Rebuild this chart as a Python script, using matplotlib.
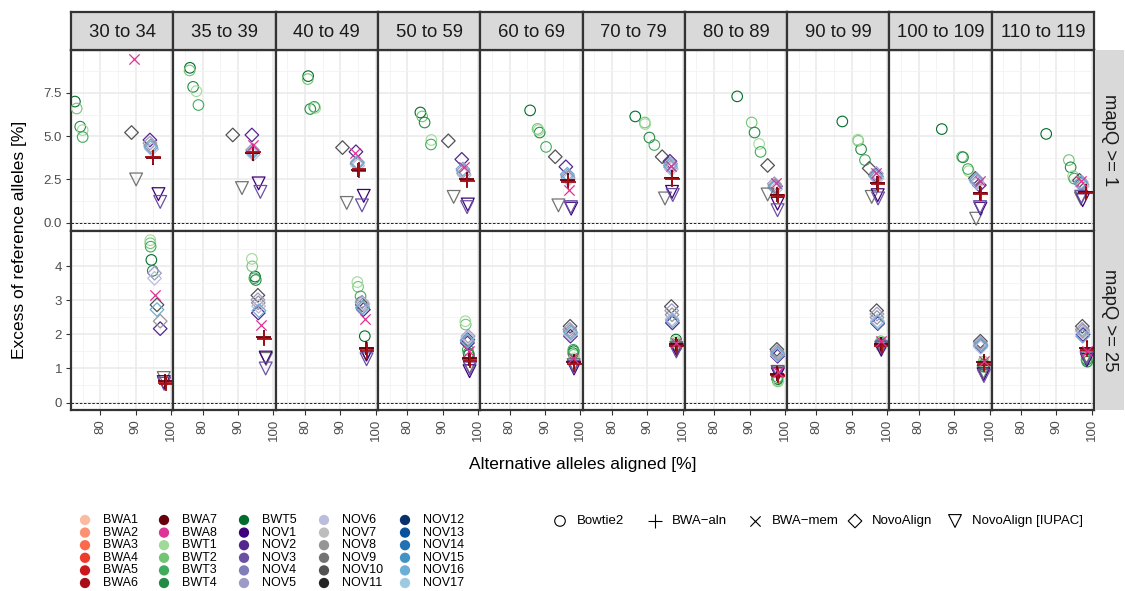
import matplotlib
matplotlib.use('Agg')
import matplotlib.pyplot as plt

plt.rcParams['font.family'] = ['Liberation Sans', 'DejaVu Sans']

# facet labels
AGE_GROUPS = ['30 to 34', '35 to 39', '40 to 49', '50 to 59', '60 to 69',
              '70 to 79', '80 to 89', '90 to 99', '100 to 109', '110 to 119']
MAPQ_ROWS = ['mapQ >= 1', 'mapQ >= 25']

# samples drawn by each aligner (one point per sample and panel)
BT2_SAMPLES = ['BWT5', 'BWT2', 'BWT4', 'BWT1', 'BWT3']
ALN_SAMPLES = ['BWA5', 'BWA7', 'BWA6']
MEM_SAMPLES = ['BWA8']
NOVO_SAMPLES = ['NOV10', 'NOV2', 'NOV5', 'NOV8', 'NOV6', 'NOV16']
IUPAC_SAMPLES = ['NOV9', 'NOV1', 'NOV3']

# ---- mapQ >= 1 : (alt aligned %, excess ref %) per age panel ----
Q1_BT2 = [
    [(72.8, 7.0), (73.3, 6.6), (74.3, 5.55), (75.0, 5.35), (75.0, 4.95)],
    [(76.4, 8.95), (76.3, 8.8), (77.3, 7.85), (78.2, 7.6), (78.8, 6.8)],
    [(80.9, 8.47), (80.8, 8.3), (81.5, 6.57), (82.9, 6.63), (82.6, 6.7)],
    [(83.7, 6.37), (84.2, 6.14), (84.9, 5.79), (86.8, 4.78), (86.7, 4.52)],
    [(85.8, 6.49), (87.9, 5.42), (88.5, 5.21), (88.2, 5.35), (90.3, 4.38)],
    [(86.6, 6.14), (89.3, 5.79), (90.6, 4.92), (89.4, 5.7), (92.0, 4.49)],
    [(86.5, 7.3), (90.6, 5.79), (91.4, 5.21), (92.7, 4.55), (93.1, 4.09)],
    [(87.3, 5.85), (91.8, 4.73), (92.6, 4.24), (91.7, 4.8), (93.7, 3.62)],
    [(86.5, 5.41), (92.2, 3.81), (92.5, 3.78), (94.1, 2.98), (93.9, 3.1)],
    [(87.1, 5.13), (93.5, 3.62), (94.0, 3.2), (94.7, 2.69), (95.0, 2.55)],
]
Q1_ALN = [
    [(95.0, 3.78), (95.0, 3.75), (94.8, 3.8)],
    [(94.2, 4.05), (94.1, 4.0), (94.3, 4.1)],
    [(95.2, 3.0), (95.1, 3.05), (95.3, 3.1)],
    [(96.9, 2.46), (96.8, 2.5), (97.0, 2.42)],
    [(96.5, 2.4), (96.4, 2.45), (96.6, 2.36)],
    [(97.0, 2.56), (96.9, 2.6), (97.1, 2.5)],
    [(97.9, 1.59), (97.8, 1.62), (98.0, 1.55)],
    [(97.3, 2.27), (97.2, 2.3), (97.4, 2.22)],
    [(97.4, 1.69), (97.3, 1.72), (97.5, 1.65)],
    [(98.3, 1.78), (98.2, 1.8), (98.4, 1.74)],
]
Q1_MEM = [
    [(89.5, 9.44)], [(94.3, 4.5)], [(94.2, 4.0)], [(96.0, 3.2)], [(96.7, 1.88)],
    [(96.8, 3.3)], [(97.5, 2.3)], [(96.9, 2.9)], [(97.2, 2.4)], [(97.0, 2.4)],
]
Q1_NOVO = [
    [(88.8, 5.21), (94.0, 4.78), (94.0, 4.6), (94.2, 4.45), (94.5, 4.25), (94.3, 4.35)],
    [(88.5, 5.07), (93.9, 5.07), (94.1, 4.2), (94.0, 4.05), (94.3, 3.95), (94.2, 4.1)],
    [(90.6, 4.34), (94.4, 4.1), (94.8, 3.5), (94.7, 3.4), (94.9, 3.3), (94.8, 3.45)],
    [(91.6, 4.73), (95.4, 3.66), (95.8, 3.0), (95.9, 2.85), (96.1, 2.75), (95.7, 3.1)],
    [(92.9, 3.81), (95.9, 3.23), (96.4, 2.7), (96.5, 2.6), (96.6, 2.5), (96.3, 2.8)],
    [(94.2, 3.81), (96.4, 3.55), (96.6, 3.4), (96.6, 3.2), (96.8, 3.1), (96.5, 3.3)],
    [(95.1, 3.31), (97.3, 2.1), (97.0, 2.25), (97.2, 2.15), (97.4, 1.95), (97.1, 2.05)],
    [(94.9, 3.14), (96.8, 2.75), (96.9, 2.85), (97.0, 2.65), (97.1, 2.55), (96.7, 2.7)],
    [(96.0, 2.56), (97.1, 2.17), (96.3, 2.5), (96.4, 2.35), (96.6, 2.3), (96.2, 2.45)],
    [(96.5, 2.45), (96.9, 2.27), (97.0, 2.35), (97.2, 2.2), (97.3, 2.1), (96.8, 2.3)],
]
Q1_IUPAC = [
    [(90.1, 2.5), (96.4, 1.65), (96.9, 1.2)],
    [(91.1, 2.0), (95.8, 2.27), (96.3, 1.78)],
    [(91.8, 1.14), (96.6, 1.55), (96.1, 1.0)],
    [(93.1, 1.49), (97.1, 1.05), (96.9, 0.9)],
    [(93.8, 1.0), (97.4, 0.81), (97.3, 0.9)],
    [(95.0, 1.4), (97.0, 1.78), (97.2, 1.6)],
    [(95.1, 1.63), (97.9, 1.1), (97.9, 0.72)],
    [(95.6, 1.49), (97.3, 1.59), (97.4, 1.4)],
    [(96.2, 0.23), (97.4, 0.81), (97.3, 0.9)],
    [(96.9, 1.4), (97.4, 1.3), (97.0, 1.5)],
]

# ---- mapQ >= 25 ----
Q25_BT2 = [
    [(94.4, 4.19), (94.1, 4.68), (94.8, 3.87), (94.1, 4.77), (94.2, 4.58)],
    [(94.8, 3.7), (94.0, 4.0), (95.0, 3.6), (93.9, 4.22), (94.6, 3.65)],
    [(96.9, 1.95), (95.0, 3.4), (95.9, 2.95), (94.8, 3.54), (95.7, 3.12)],
    [(97.4, 1.4), (96.5, 2.29), (97.3, 1.45), (96.4, 2.39), (97.1, 1.55)],
    [(98.1, 1.51), (98.1, 1.4), (98.0, 1.45), (98.2, 1.3), (98.0, 1.55)],
    [(98.1, 1.85), (98.1, 1.75), (98.2, 1.7), (98.0, 1.8), (98.3, 1.65)],
    [(97.9, 0.68), (98.0, 0.62), (97.8, 0.7), (98.1, 0.65), (97.9, 0.75)],
    [(98.3, 1.75), (98.2, 1.8), (98.4, 1.7), (98.3, 1.65), (98.2, 1.72)],
    [(98.4, 1.12), (98.3, 1.2), (98.5, 1.05), (98.4, 1.15), (98.3, 1.1)],
    [(98.6, 1.27), (98.5, 1.35), (98.7, 1.2), (98.6, 1.3), (98.5, 1.25)],
]
Q25_ALN = [
    [(98.4, 0.58), (98.3, 0.62), (98.5, 0.55)],
    [(97.3, 1.9), (97.2, 1.92), (97.4, 1.88)],
    [(97.4, 1.56), (97.3, 1.6), (97.5, 1.5)],
    [(97.6, 1.27), (97.5, 1.3), (97.7, 1.22)],
    [(98.2, 1.17), (98.1, 1.2), (98.3, 1.12)],
    [(98.2, 1.7), (98.1, 1.72), (98.3, 1.65)],
    [(97.9, 0.82), (97.8, 0.85), (98.0, 0.78)],
    [(98.3, 1.7), (98.2, 1.72), (98.4, 1.65)],
    [(98.4, 1.15), (98.3, 1.2), (98.5, 1.1)],
    [(98.6, 1.61), (98.5, 1.6), (98.7, 1.55)],
]
Q25_MEM = [
    [(95.5, 3.17)], [(96.6, 2.29)], [(96.9, 2.44)], [(97.3, 1.5)], [(98.0, 1.3)],
    [(98.2, 1.75)], [(97.9, 0.9)], [(98.3, 1.8)], [(98.4, 1.22)], [(98.6, 1.5)],
]
Q25_NOVO = [
    [(96.0, 2.87), (96.9, 2.17), (95.3, 3.8), (96.9, 2.39), (95.3, 3.65), (96.0, 2.73)],
    [(95.6, 3.15), (95.7, 2.63), (95.6, 3.02), (95.7, 2.93), (95.8, 2.83), (95.9, 2.7)],
    [(96.2, 2.87), (96.5, 2.73), (96.1, 2.95), (96.3, 2.8), (96.4, 2.9), (96.2, 2.78)],
    [(97.1, 1.85), (97.0, 1.75), (97.2, 1.95), (97.0, 1.8), (97.1, 1.9), (96.9, 1.82)],
    [(97.1, 2.24), (97.2, 1.95), (97.0, 2.15), (97.1, 2.09), (97.2, 2.0), (97.3, 2.05)],
    [(96.8, 2.82), (97.1, 2.34), (96.9, 2.7), (97.0, 2.58), (97.0, 2.45), (97.1, 2.4)],
    [(97.7, 1.56), (97.9, 1.36), (97.8, 1.5), (97.9, 1.45), (97.8, 1.4), (98.0, 1.42)],
    [(97.0, 2.7), (97.3, 2.32), (97.1, 2.6), (97.1, 2.5), (97.2, 2.4), (97.3, 2.35)],
    [(97.4, 1.8), (97.5, 1.66), (97.4, 1.75), (97.5, 1.7), (97.5, 1.62), (97.6, 1.68)],
    [(97.3, 2.24), (97.5, 2.0), (97.3, 2.15), (97.4, 2.1), (97.5, 2.05), (97.4, 1.95)],
]
Q25_IUPAC = [
    [(97.9, 0.72), (97.9, 0.6), (98.0, 0.55)],
    [(97.9, 1.28), (97.8, 1.32), (97.8, 1.0)],
    [(97.3, 1.41), (97.4, 1.41), (97.4, 1.27)],
    [(97.6, 1.05), (97.6, 0.92), (97.7, 1.0)],
    [(98.1, 1.1), (98.2, 1.0), (98.1, 1.05)],
    [(98.2, 1.6), (98.3, 1.55), (98.2, 1.5)],
    [(98.0, 0.88), (98.0, 0.83), (97.9, 0.9)],
    [(98.3, 1.6), (98.3, 1.55), (98.4, 1.62)],
    [(98.3, 0.9), (98.3, 0.83), (98.4, 0.78)],
    [(98.5, 1.35), (98.6, 1.25), (98.5, 1.3)],
]

SAMPLES = ['BWA1', 'BWA2', 'BWA3', 'BWA4', 'BWA5', 'BWA6', 'BWA7', 'BWA8',
           'BWT1', 'BWT2', 'BWT3', 'BWT4', 'BWT5'] + ['NOV%d' % i for i in range(1, 18)]
SAMPLE_COLORS = [
    '#FCBBA1', '#FC9272', '#FB6A4A', '#EF3B2C', '#CB181D', '#A50F15', '#67000D', '#DD3497',
    '#A1D99B', '#74C476', '#41AB5D', '#238B45', '#006D2C',
    '#3F007D', '#54278F', '#6A51A3', '#807DBA', '#9E9AC8', '#BCBDDC',
    '#BDBDBD', '#969696', '#737373', '#525252', '#252525',
    '#08306B', '#08519C', '#2171B5', '#4292C6', '#6BAED6', '#9ECAE1',
]
col_of = dict(zip(SAMPLES, SAMPLE_COLORS))

ALIGNERS = ['Bowtie2', 'BWA\u2212aln', 'BWA\u2212mem', 'NovoAlign', 'NovoAlign [IUPAC]']
MARKERS = {'Bowtie2': ('o', 58, 0.8), 'BWA\u2212aln': ('+', 110, 1.3),
           'BWA\u2212mem': ('x', 55, 0.9), 'NovoAlign': ('D', 48, 0.9),
           'NovoAlign [IUPAC]': ('v', 85, 0.9)}

rows_data = [
    [(Q1_BT2, BT2_SAMPLES, 'Bowtie2'), (Q1_NOVO, NOVO_SAMPLES, 'NovoAlign'),
     (Q1_IUPAC, IUPAC_SAMPLES, 'NovoAlign [IUPAC]'), (Q1_ALN, ALN_SAMPLES, 'BWA\u2212aln'),
     (Q1_MEM, MEM_SAMPLES, 'BWA\u2212mem')],
    [(Q25_BT2, BT2_SAMPLES, 'Bowtie2'), (Q25_NOVO, NOVO_SAMPLES, 'NovoAlign'),
     (Q25_IUPAC, IUPAC_SAMPLES, 'NovoAlign [IUPAC]'), (Q25_ALN, ALN_SAMPLES, 'BWA\u2212aln'),
     (Q25_MEM, MEM_SAMPLES, 'BWA\u2212mem')],
]

W, H = 1125, 591
fig = plt.figure(figsize=(W / 100, H / 100), dpi=100)


def box(x0, y0, x1, y1):
    # pixel box (top-left origin) -> figure fraction rect
    return [x0 / W, 1 - y1 / H, (x1 - x0) / W, (y1 - y0) / H]


PANEL_L, PANEL_W = 71, 102.3
ROW_Y = [(50, 231), (231, 410)]
YLIMS = [(-0.48, 9.98), (-0.22, 5.04)]
YMAJ = [[0, 2.5, 5, 7.5], [0, 1, 2, 3, 4]]
YMIN = [[1.25, 3.75, 6.25, 8.75], [0.5, 1.5, 2.5, 3.5, 4.5]]
YLAB = [['0.0', '2.5', '5.0', '7.5'], ['0', '1', '2', '3', '4']]
DARK = '#333333'

for r in range(2):
    for c in range(10):
        x0 = PANEL_L + PANEL_W * c
        ax = fig.add_axes(box(x0, ROW_Y[r][0], x0 + PANEL_W, ROW_Y[r][1]))
        ax.set_xlim(71.7, 100.6)
        ax.set_ylim(*YLIMS[r])
        ax.set_xticks([80, 90, 100])
        ax.set_xticks([75, 85, 95], minor=True)
        ax.set_yticks(YMAJ[r])
        ax.set_yticks(YMIN[r], minor=True)
        ax.grid(which='major', color='#EBEBEB', lw=1.2)
        ax.grid(which='minor', color='#F2F2F2', lw=0.6)
        ax.set_axisbelow(True)
        for s in ax.spines.values():
            s.set_color(DARK)
            s.set_linewidth(1.6)
        ax.tick_params(which='minor', length=0)
        ax.tick_params(which='major', length=3.5, width=0.8, color=DARK,
                       labelsize=9.5, labelcolor='#4D4D4D', pad=3)
        if c == 0:
            ax.set_yticklabels(YLAB[r])
        else:
            ax.tick_params(axis='y', length=0, labelleft=False)
        if r == 1:
            ax.set_xticklabels(['80', '90', '100'], rotation=90)
        else:
            ax.tick_params(axis='x', length=0, labelbottom=False)
        ax.axhline(0, color='black', lw=0.6, ls=(0, (3, 2)), zorder=1)

        for data, samples, aligner in rows_data[r]:
            pts = data[c]
            xs = [p[0] for p in pts]
            ys = [p[1] for p in pts]
            cols = [col_of[s] for s in samples[:len(pts)]]
            mk, size, lw = MARKERS[aligner]
            if mk in ('+', 'x'):
                ax.scatter(xs, ys, marker=mk, s=size, c=cols, linewidths=lw, zorder=3)
            else:
                ax.scatter(xs, ys, marker=mk, s=size, facecolors='none',
                           edgecolors=cols, linewidths=lw, zorder=3)

        if r == 0:
            sx = fig.add_axes(box(x0, 12, x0 + PANEL_W, 50))
            sx.set_facecolor('#D9D9D9')
            sx.set_xticks([])
            sx.set_yticks([])
            for s in sx.spines.values():
                s.set_color(DARK)
                s.set_linewidth(1.6)
            sx.text(0.5, 0.45, AGE_GROUPS[c], ha='center', va='center',
                    fontsize=13.3, color='#1A1A1A', transform=sx.transAxes)

    sy = fig.add_axes(box(1095, ROW_Y[r][0], 1124, ROW_Y[r][1]))
    sy.set_facecolor('#D9D9D9')
    sy.set_xticks([])
    sy.set_yticks([])
    for s in sy.spines.values():
        s.set_visible(False)
    sy.text(0.5, 0.5, MAPQ_ROWS[r], rotation=-90, ha='center', va='center',
            fontsize=13.3, color='#1A1A1A', transform=sy.transAxes)

fig.text(20 / W, 1 - 240 / H, 'Excess of reference alleles [%]', rotation=90,
         ha='center', va='center', fontsize=12.5)
fig.text(583 / W, 1 - 465 / H, 'Alternative alleles aligned [%]',
         ha='center', va='center', fontsize=12.5)

# legends (drawn on an overlay in pixel units)
lg = fig.add_axes([0, 0, 1, 1], zorder=-1)
lg.set_xlim(0, W)
lg.set_ylim(H, 0)
lg.axis('off')
col_x = [85, 164, 244, 324, 405]
for i, (name, colr) in enumerate(zip(SAMPLES, SAMPLE_COLORS)):
    cx = col_x[i // 6]
    cy = 520 + (i % 6) * 12.6
    lg.scatter([cx], [cy], s=55, color=colr, edgecolors='none')
    lg.text(cx + 18, cy, name, ha='left', va='center', fontsize=9)

shape_x = [560, 655, 755, 855, 955]
for sxp, aligner in zip(shape_x, ALIGNERS):
    mk, size, lw = MARKERS[aligner]
    if mk in ('+', 'x'):
        lg.scatter([sxp], [521], marker=mk, s=size, color='black', linewidths=0.8)
    else:
        lg.scatter([sxp], [521], marker=mk, s=size, facecolors='none',
                   edgecolors='black', linewidths=0.8)
    lg.text(sxp + 17, 521, aligner, ha='left', va='center', fontsize=9.5)

fig.savefig('out.png', dpi=100)
